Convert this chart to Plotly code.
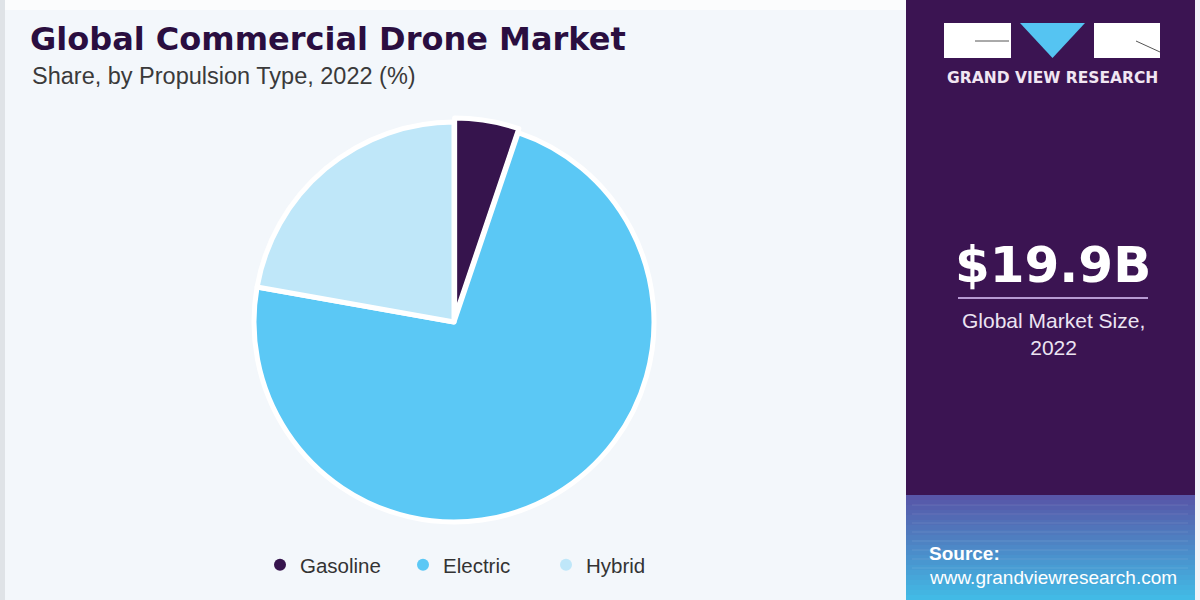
import plotly.graph_objects as go

# data
categories = ["Gasoline", "Electric", "Hybrid"]
shares = [5.2, 72.6, 22.2]
colors = ["#36144d", "#5bc8f5", "#bfe7f9"]

market_size = "$19.9B"
market_label = "Global Market Size,<br>2022"

W, H = 1200, 600
FONT = "Liberation Sans"
PANEL = "#3b1452"

fig = go.Figure()

fig.add_trace(go.Pie(
    labels=categories, values=shares, sort=False, direction="clockwise", rotation=0,
    marker=dict(colors=colors, line=dict(color="#ffffff", width=5)),
    pull=[0.02, 0, 0], textinfo="none", hoverinfo="label+percent",
    showlegend=False,
    domain=dict(x=[250 / W, 658 / W], y=[74 / H, 482 / H]),
))

# legend entries drawn as round markers
for name, c in zip(categories, colors):
    fig.add_trace(go.Scatter(
        x=[None], y=[None], mode="markers", name=name,
        marker=dict(color=c, size=16, symbol="circle"),
    ))

shapes = []
# top light strip and left edge
shapes.append(dict(type="rect", xref="paper", yref="paper", x0=0, x1=1, y0=1 - 10 / H, y1=1,
                   fillcolor="#fbfcfd", line_width=0, layer="below"))
shapes.append(dict(type="rect", xref="paper", yref="paper", x0=0, x1=5 / W, y0=0, y1=1,
                   fillcolor="#dfe3e7", line_width=0, layer="below"))
# right panel
shapes.append(dict(type="rect", xref="paper", yref="paper", x0=906 / W, x1=1195 / W, y0=0, y1=1,
                   fillcolor=PANEL, line_width=0, layer="below"))
shapes.append(dict(type="rect", xref="paper", yref="paper", x0=1195 / W, x1=1, y0=0, y1=1,
                   fillcolor="#f1f3f8", line_width=0, layer="below"))

# gradient footer in right panel
top_c = (88, 86, 168)
bot_c = (66, 186, 230)
n = 21
y_top, y_bot = 495, 600
for i in range(n):
    t = i / (n - 1)
    r, g, b = [int(a + (bb - a) * t) for a, bb in zip(top_c, bot_c)]
    ya = y_top + (y_bot - y_top) * i / n
    yb = y_top + (y_bot - y_top) * (i + 1) / n
    shapes.append(dict(type="rect", xref="paper", yref="paper", x0=906 / W, x1=1195 / W,
                       y0=1 - yb / H, y1=1 - ya / H,
                       fillcolor=f"rgb({r},{g},{b})", line_width=0, layer="below"))
# faint grid texture
for k in range(8):
    yy = 505 + k * 9
    shapes.append(dict(type="line", xref="paper", yref="paper", x0=912 / W, x1=1188 / W,
                       y0=1 - yy / H, y1=1 - yy / H,
                       line=dict(color="rgba(255,255,255,0.10)", width=1), layer="below"))

# logo
shapes.append(dict(type="rect", xref="paper", yref="paper", x0=944 / W, x1=1011 / W,
                   y0=1 - 58 / H, y1=1 - 23 / H, fillcolor="#ffffff", line_width=0))
shapes.append(dict(type="rect", xref="paper", yref="paper", x0=1094 / W, x1=1160 / W,
                   y0=1 - 58 / H, y1=1 - 23 / H, fillcolor="#ffffff", line_width=0))
shapes.append(dict(type="path", xref="paper", yref="paper",
                   path=f"M {1020 / W} {1 - 23 / H} L {1085 / W} {1 - 23 / H} L {1052.5 / W} {1 - 58 / H} Z",
                   fillcolor="#55c4f2", line_width=0))
shapes.append(dict(type="line", xref="paper", yref="paper", x0=975 / W, x1=1009 / W,
                   y0=1 - 41 / H, y1=1 - 41 / H, line=dict(color="#555555", width=1)))
shapes.append(dict(type="line", xref="paper", yref="paper", x0=1136 / W, x1=1160 / W,
                   y0=1 - 41 / H, y1=1 - 52 / H, line=dict(color="#555555", width=1)))
# divider under market size
shapes.append(dict(type="line", xref="paper", yref="paper", x0=958 / W, x1=1148 / W,
                   y0=1 - 298 / H, y1=1 - 298 / H, line=dict(color="#b79ad3", width=2)))

annotations = [
    dict(text="<b>Global Commercial Drone Market</b>", x=28 / W, y=1 - 39 / H,
         xanchor="left", yanchor="middle", font=dict(family="DejaVu Sans", size=32, color="#2a0e40")),
    dict(text="Share, by Propulsion Type, 2022 (%)", x=30 / W, y=1 - 76 / H,
         xanchor="left", yanchor="middle", font=dict(family=FONT, size=23.5, color="#3a3a3a")),
    dict(text="<b>GRAND VIEW RESEARCH</b>", x=1052 / W, y=1 - 78 / H,
         xanchor="center", yanchor="middle", font=dict(family="DejaVu Sans", size=15.5, color="#f1e6f2")),
    dict(text=f"<b>{market_size}</b>", x=1053 / W, y=1 - 265 / H,
         xanchor="center", yanchor="middle", font=dict(family="DejaVu Sans", size=50, color="#ffffff")),
    dict(text=market_label, x=1053 / W, y=1 - 334 / H,
         xanchor="center", yanchor="middle", font=dict(family=FONT, size=21, color="#ece4f2")),
    dict(text="<b>Source:</b>", x=927 / W, y=1 - 553 / H,
         xanchor="left", yanchor="middle", font=dict(family=FONT, size=19, color="#ffffff")),
    dict(text="www.grandviewresearch.com", x=927 / W, y=1 - 577 / H,
         xanchor="left", yanchor="middle", font=dict(family=FONT, size=19, color="#ffffff")),
]
for a in annotations:
    a.update(xref="paper", yref="paper", showarrow=False)

fig.update_layout(
    width=W, height=H,
    margin=dict(l=0, r=0, t=0, b=0),
    paper_bgcolor="#f3f7fb", plot_bgcolor="rgba(0,0,0,0)",
    xaxis=dict(visible=False, domain=[0, 0.01]), yaxis=dict(visible=False, domain=[0, 0.01]),
    showlegend=True,
    legend=dict(orientation="h", x=260 / W, y=35 / H, xanchor="left", yanchor="middle",
                font=dict(family=FONT, size=20.5, color="#333333"), bgcolor="rgba(0,0,0,0)",
                entrywidth=98, itemsizing="constant"),
    shapes=shapes, annotations=annotations,
)

fig.write_html("out.html", config={"displayModeBar": False},
               post_script="document.body.style.margin='0';")
